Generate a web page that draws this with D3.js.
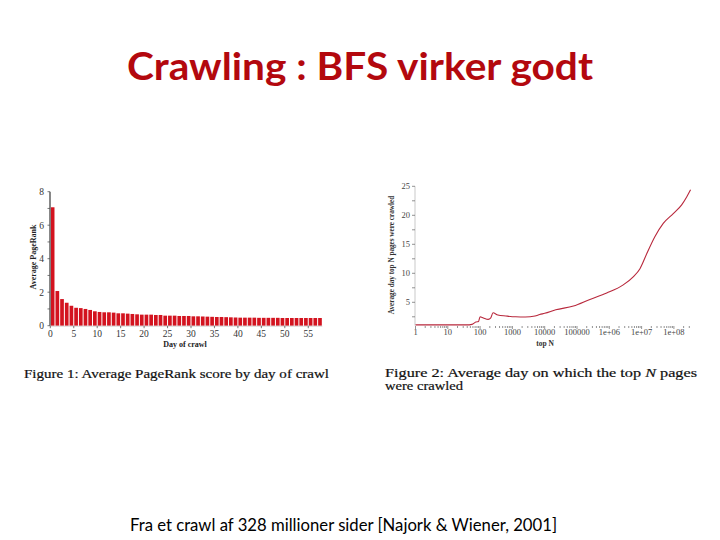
<!DOCTYPE html>
<html><head><meta charset="utf-8">
<script src="https://cdn.jsdelivr.net/npm/d3@7"></script>
<style>html,body{margin:0;padding:0;background:#fff;}</style>
</head><body>
<svg id="c" width="720" height="540"></svg>
<script>
// ---------- data ----------
const titleText = "Crawling : BFS virker godt";
const footText = "Fra et crawl af 328 millioner sider [Najork & Wiener, 2001]";

// Figure 1: average PageRank by day of crawl (days 0..57)
const days = d3.range(0, 58);
const avgPageRank = [7.07, 2.07, 1.59, 1.37, 1.19, 1.07, 1.05, 1.0, 0.94, 0.86,
  0.82, 0.80, 0.80, 0.78, 0.74, 0.74, 0.72, 0.70, 0.68, 0.66,
  0.66, 0.66, 0.64, 0.64, 0.60, 0.60, 0.60, 0.58, 0.58, 0.58,
  0.56, 0.56, 0.55, 0.54, 0.53, 0.52, 0.52, 0.51, 0.50, 0.49,
  0.48, 0.48, 0.48, 0.48, 0.47, 0.47, 0.47, 0.47, 0.47, 0.46,
  0.46, 0.46, 0.46, 0.46, 0.46, 0.46, 0.46, 0.46];
const fig1XTicks = [0, 5, 10, 15, 20, 25, 30, 35, 40, 45, 50, 55];
const fig1YTicks = [0, 2, 4, 6, 8];

// Figure 2: average day on which the top N pages were crawled
const topN =      [1,   38,  56,  74,  89,  100, 126, 178, 214, 251, 355, 630, 1260, 2500, 5000, 7000, 10000, 22000, 77600, 251000, 832000, 2.7e6, 5.5e6, 8.9e6, 1.45e7, 2.57e7, 4.68e7, 9.55e7, 1.74e8, 2.51e8, 3.28e8];
const avgDay =    [1.1, 1.1, 1.2, 1.6, 1.7, 2.5, 2.3, 2.05, 2.3, 3.2, 2.8, 2.64, 2.5, 2.47, 2.64, 2.9, 3.1,  3.7,   4.36,  5.5,    6.6,    8.0,   9.4,   10.8,  13.4,   16.3,   18.6,   20.3,   21.8,   23.2,   24.4];
const fig2XTicks = [1, 10, 100, 1000, 10000, 100000, 1e6, 1e7, 1e8];
const fig2XLabels = ["1", "10", "100", "1000", "10000", "100000", "1e+06", "1e+07", "1e+08"];
const fig2YTicks = [5, 10, 15, 20, 25];

// ---------- drawing ----------
const svg = d3.select("#c");
const serif = "'Liberation Serif','DejaVu Serif',serif";

svg.append("text").attr("x", 360).attr("y", 80).attr("text-anchor", "middle")
  .attr("font-family", "Lato, 'Open Sans', sans-serif").attr("font-weight", "bold")
  .attr("font-size", 38).attr("fill", "#b3080e")
  .attr("textLength", 466).attr("lengthAdjust", "spacingAndGlyphs")
  .text(titleText);

svg.append("text").attr("x", 130).attr("y", 531).attr("font-family", "Lato, 'Open Sans', sans-serif")
  .attr("font-size", 18).attr("fill", "#000")
  .attr("textLength", 427).attr("lengthAdjust", "spacingAndGlyphs")
  .text(footText);

// ---- Figure 1 ----
const g1 = svg.append("g");
const x1 = d3.scaleLinear().domain([0, 58]).range([50.3, 50.3 + 58 * 4.69]);
const y1 = d3.scaleLinear().domain([0, 8]).range([325.7, 191.7]);

g1.selectAll("rect.bar").data(days).join("rect").attr("class", "bar")
  .attr("x", d => x1(d) + 0.5)
  .attr("width", d => x1(d + 1) - x1(d) - 1.0)
  .attr("y", (d, i) => y1(avgPageRank[i]))
  .attr("height", (d, i) => y1(0) - y1(avgPageRank[i]))
  .attr("fill", "#d3131f");

// y axis
g1.append("line").attr("x1", 50).attr("x2", 50).attr("y1", y1(8)).attr("y2", y1(0))
  .attr("stroke", "#6a6a6a").attr("stroke-width", 1.6);
g1.selectAll("line.ytk").data(d3.range(0, 9)).join("line").attr("class", "ytk")
  .attr("x1", 47.5).attr("x2", 50).attr("y1", d => y1(d)).attr("y2", d => y1(d))
  .attr("stroke", "#555").attr("stroke-width", 0.8);
g1.selectAll("text.ylab").data(fig1YTicks).join("text").attr("class", "ylab")
  .attr("x", 44).attr("y", d => y1(d) + 3.5).attr("text-anchor", "end")
  .attr("font-family", serif).attr("font-size", 9.5).attr("fill", "#333").text(d => d);
// x axis
g1.append("line").attr("x1", 50).attr("x2", x1(58)).attr("y1", y1(0) + 0.5).attr("y2", y1(0) + 0.5)
  .attr("stroke", "#bbb").attr("stroke-width", 0.6);
g1.selectAll("line.xtk").data(fig1XTicks).join("line").attr("class", "xtk")
  .attr("x1", d => x1(d)).attr("x2", d => x1(d)).attr("y1", y1(0)).attr("y2", y1(0) + 2.5)
  .attr("stroke", "#555").attr("stroke-width", 0.8);
g1.selectAll("text.xlab").data(fig1XTicks).join("text").attr("class", "xlab")
  .attr("x", d => x1(d)).attr("y", 337).attr("text-anchor", "middle")
  .attr("font-family", serif).attr("font-size", 9.5).attr("fill", "#333").text(d => d);
g1.append("text").attr("x", 185).attr("y", 347).attr("text-anchor", "middle")
  .attr("font-family", serif).attr("font-weight", "bold").attr("font-size", 8).attr("fill", "#222")
  .text("Day of crawl");
g1.append("text").attr("transform", "translate(36,257) rotate(-90)").attr("text-anchor", "middle")
  .attr("font-family", serif).attr("font-weight", "bold").attr("font-size", 8).attr("fill", "#222")
  .text("Average PageRank");

// caption 1
svg.append("text").attr("x", 24).attr("y", 378).attr("font-family", serif).attr("font-size", 12.5)
  .attr("fill", "#111").attr("stroke", "#111").attr("stroke-width", 0.2)
  .attr("textLength", 305).attr("lengthAdjust", "spacingAndGlyphs")
  .text("Figure 1:  Average PageRank score by day of crawl");

// ---- Figure 2 ----
const g2 = svg.append("g");
const x2 = d3.scaleLog().domain([1, 1e8]).range([415.5, 415.5 + 8 * 32.3]);
const y2 = d3.scaleLinear().domain([1, 25]).range([325.5, 186.3]);

g2.append("line").attr("x1", 415).attr("x2", 415).attr("y1", y2(25)).attr("y2", y2(1))
  .attr("stroke", "#bbb").attr("stroke-width", 0.8);
g2.selectAll("line.ytk").data(d3.range(2.5, 26, 2.5)).join("line").attr("class", "ytk")
  .attr("x1", 412).attr("x2", 415).attr("y1", d => y2(d)).attr("y2", d => y2(d))
  .attr("stroke", "#666").attr("stroke-width", 0.7);
g2.selectAll("text.ylab").data(fig2YTicks).join("text").attr("class", "ylab")
  .attr("x", 410).attr("y", d => y2(d) + 3).attr("text-anchor", "end")
  .attr("font-family", serif).attr("font-size", 8.5).attr("fill", "#444").text(d => d);

const minor = [];
for (let e = 0; e <= 8; e++) for (let m = 1; m <= 9; m++) { const v = m * Math.pow(10, e); if (v <= 3.3e8) minor.push(v); }
g2.selectAll("line.xtk").data(minor).join("line").attr("class", "xtk")
  .attr("x1", d => x2(d)).attr("x2", d => x2(d)).attr("y1", 326).attr("y2", d => fig2XTicks.includes(d) ? 329 : 328)
  .attr("stroke", "#666").attr("stroke-width", 0.7);
g2.selectAll("text.xlab").data(fig2XTicks).join("text").attr("class", "xlab")
  .attr("x", d => x2(d)).attr("y", 334.5).attr("text-anchor", "middle")
  .attr("font-family", serif).attr("font-size", 8.5).attr("fill", "#444")
  .text((d, i) => fig2XLabels[i]);
g2.append("text").attr("x", 545).attr("y", 346).attr("text-anchor", "middle")
  .attr("font-family", serif).attr("font-weight", "bold").attr("font-size", 7.5).attr("fill", "#333")
  .text("top N");
g2.append("text").attr("transform", "translate(394,255) rotate(-90)").attr("text-anchor", "middle")
  .attr("font-family", serif).attr("font-weight", "bold").attr("font-size", 7.2).attr("fill", "#333")
  .text("Average day top N pages were crawled");

const line2 = d3.line().x((d, i) => x2(topN[i])).y((d, i) => y2(avgDay[i])).curve(d3.curveMonotoneX);
g2.append("path").datum(avgDay).attr("d", line2).attr("fill", "none")
  .attr("stroke", "#b8283c").attr("stroke-width", 1.1);

// caption 2
const cap2 = svg.append("text").attr("x", 385).attr("y", 377).attr("font-family", serif).attr("font-size", 12.5)
  .attr("fill", "#111").attr("stroke", "#111").attr("stroke-width", 0.2)
  .attr("textLength", 312).attr("lengthAdjust", "spacingAndGlyphs");
cap2.append("tspan").text("Figure 2:  Average day on which the top ");
cap2.append("tspan").attr("font-style", "italic").text("N");
cap2.append("tspan").text(" pages");
svg.append("text").attr("x", 385).attr("y", 390).attr("font-family", serif).attr("font-size", 12.5)
  .attr("fill", "#111").attr("stroke", "#111").attr("stroke-width", 0.2)
  .attr("textLength", 78).attr("lengthAdjust", "spacingAndGlyphs").text("were crawled");
</script>
</body></html>
